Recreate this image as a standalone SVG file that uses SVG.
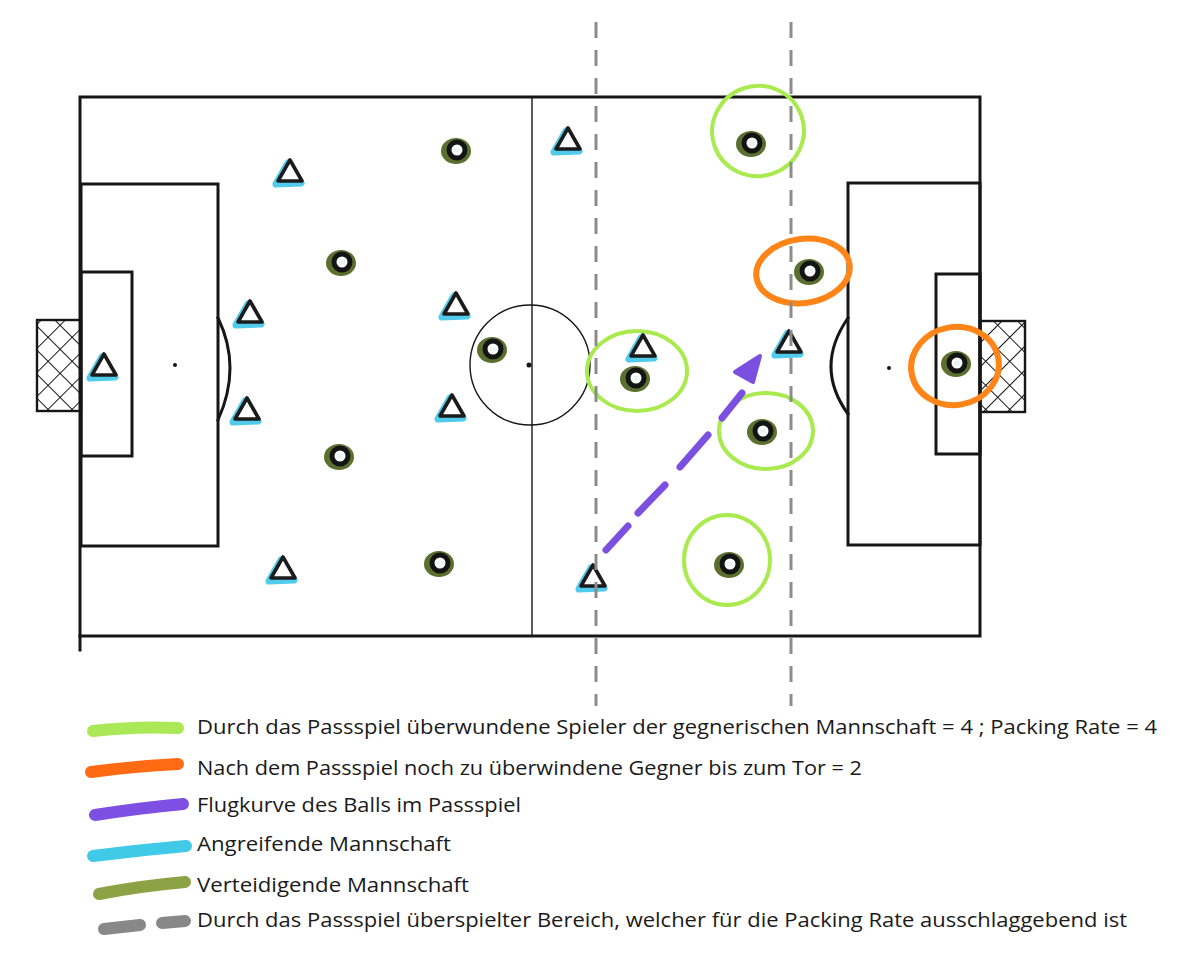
<svg xmlns="http://www.w3.org/2000/svg" xmlns:xlink="http://www.w3.org/1999/xlink" width="1200" height="977" viewBox="0 0 1200 977">
<defs>
<style>
.line{fill:none;stroke:#161616;stroke-width:3;stroke-linecap:square}
.thin{fill:none;stroke:#161616;stroke-width:1.4}
.goal{fill:url(#net);stroke:#161616;stroke-width:2.4}
.zone{fill:none;stroke:#8c8c8c;stroke-width:3;stroke-dasharray:16 12}
.lime{fill:none;stroke:#a9ea4f;stroke-width:4}
.orange{fill:none;stroke:#ff8518;stroke-width:6}
.legtxt{font-family:"Open Sans","Liberation Sans",sans-serif;font-size:19.5px;fill:#1a1a1a}
.sw{fill:none;stroke-width:12;stroke-linecap:round}
</style>
<pattern id="net" patternUnits="userSpaceOnUse" width="17" height="17" patternTransform="rotate(45)">
<line x1="0" y1="0" x2="0" y2="17" stroke="#161616" stroke-width="2"/>
<line x1="0" y1="0" x2="17" y2="0" stroke="#161616" stroke-width="2"/>
</pattern>
<g id="tri">
<path d="M-2,-9 L11,11 L-14,12 Z" fill="#3ec6ea" stroke="#3ec6ea" stroke-width="7" stroke-linejoin="round" opacity="0.9"/>
<path d="M0,-12 L12,9 L-12,9 Z" fill="#ffffff" stroke="#1b1b1b" stroke-width="3.6" stroke-linejoin="round"/>
</g>
<g id="def">
<ellipse cx="-1" cy="1" rx="15" ry="13" fill="#5b6f2f"/>
<circle cx="0" cy="0" r="8" fill="#ffffff" stroke="#141414" stroke-width="5"/>
<ellipse cx="0" cy="0" rx="3.5" ry="2.6" fill="#e9f6f4"/>
</g>
</defs>
<rect width="1200" height="977" fill="#ffffff"/>

<g id="pitch">
<rect x="80" y="97" width="900" height="539" class="line"/>
<line x1="80" y1="636" x2="80" y2="650" class="line"/>
<line x1="532" y1="97" x2="532" y2="636" class="thin" stroke-width="2"/>
<circle cx="530" cy="365" r="60" class="thin"/>
<circle cx="529" cy="365" r="2.5" fill="#161616"/>
<rect x="81" y="184" width="137" height="362" class="line"/>
<rect x="81" y="272" width="51" height="184" class="line" stroke-width="2.4"/>
<path d="M218,318 Q242,367 218,420" class="line" stroke-width="2"/>
<circle cx="175" cy="365" r="2" fill="#161616"/>
<rect x="37" y="320" width="44" height="91" class="goal"/>
<rect x="848" y="183" width="132" height="362" class="line"/>
<rect x="936" y="274" width="44" height="180" class="line" stroke-width="2.4"/>
<path d="M848,318 Q814,367 848,414" class="line" stroke-width="2"/>
<circle cx="889" cy="368" r="2" fill="#161616"/>
<rect x="980" y="321" width="45" height="91" class="goal"/>
</g>

<g id="highlights">
<ellipse cx="758" cy="131" rx="46" ry="45" class="lime" transform="rotate(-20 758 131)"/>
<ellipse cx="637" cy="371" rx="50" ry="40" class="lime"/>
<ellipse cx="766" cy="431" rx="47" ry="38" class="lime"/>
<ellipse cx="727" cy="560" rx="43" ry="45" class="lime"/>
<ellipse cx="803" cy="271" rx="47" ry="32" class="orange" transform="rotate(-8 803 271)"/>
<ellipse cx="955" cy="366" rx="44" ry="39" class="orange" transform="rotate(-10 955 366)"/>
</g>

<g id="attackers">
<g id="a1"><use xlink:href="#tri" x="290" y="172"/></g>
<g id="a2"><use xlink:href="#tri" x="250" y="313"/></g>
<g id="a3"><use xlink:href="#tri" x="247" y="410"/></g>
<g id="a4"><use xlink:href="#tri" x="104" y="366"/></g>
<g id="a5"><use xlink:href="#tri" x="456" y="305"/></g>
<g id="a6"><use xlink:href="#tri" x="452" y="407"/></g>
<g id="a7"><use xlink:href="#tri" x="283" y="569"/></g>
<g id="a8"><use xlink:href="#tri" x="568" y="140"/></g>
<g id="a9"><use xlink:href="#tri" x="643" y="347"/></g>
<g id="a10"><use xlink:href="#tri" x="789" y="343"/></g>
<g id="a11"><use xlink:href="#tri" x="593" y="577"/></g>
</g>

<g id="defenders">
<g id="d1"><use xlink:href="#def" x="457" y="150"/></g>
<g id="d2"><use xlink:href="#def" x="342" y="262"/></g>
<g id="d3"><use xlink:href="#def" x="493" y="349"/></g>
<g id="d4"><use xlink:href="#def" x="340" y="456"/></g>
<g id="d5"><use xlink:href="#def" x="440" y="563"/></g>
<g id="d6"><use xlink:href="#def" x="752" y="143"/></g>
<g id="d7"><use xlink:href="#def" x="810" y="271"/></g>
<g id="d8"><use xlink:href="#def" x="636" y="378"/></g>
<g id="d9"><use xlink:href="#def" x="763" y="431"/></g>
<g id="d10"><use xlink:href="#def" x="730" y="564"/></g>
<g id="d11"><use xlink:href="#def" x="957" y="363"/></g>
</g>

<g id="connectors">
<line x1="596" y1="22" x2="596" y2="706" class="zone"/>
<line x1="791" y1="22" x2="791" y2="706" class="zone"/>
<g stroke="#7b4fe0" stroke-width="7" stroke-linecap="round" fill="none">
<line x1="606" y1="550" x2="628" y2="526"/>
<line x1="638" y1="513" x2="665" y2="485"/>
<line x1="680" y1="467" x2="708" y2="435"/>
<line x1="722" y1="418" x2="742" y2="393"/>
</g>
<path d="M735,372 L760,356 L753,382 Z" fill="#7b4fe0" stroke="#7b4fe0" stroke-width="4" stroke-linejoin="round"/>
</g>

<g id="legend">
<path d="M93,731 Q135,726 178,728" class="sw" stroke="#abe858"/>
<text x="197" y="734" class="legtxt" textLength="960" lengthAdjust="spacingAndGlyphs">Durch das Passspiel überwundene Spieler der gegnerischen Mannschaft = 4 ; Packing Rate = 4</text>
<path d="M91,772 Q135,766 178,764" class="sw" stroke="#ff6a12" stroke-width="13"/>
<text x="197" y="775" class="legtxt" textLength="665" lengthAdjust="spacingAndGlyphs">Nach dem Passspiel noch zu überwindene Gegner bis zum Tor = 2</text>
<path d="M95,815 Q140,808 183,804" class="sw" stroke="#7d4fe2"/>
<text x="197" y="812" class="legtxt" textLength="324" lengthAdjust="spacingAndGlyphs">Flugkurve des Balls im Passspiel</text>
<path d="M93,856 Q140,850 186,846" class="sw" stroke="#41c9e8"/>
<text x="197" y="851" class="legtxt" textLength="254" lengthAdjust="spacingAndGlyphs">Angreifende Mannschaft</text>
<path d="M99,894 Q140,886 185,882" class="sw" stroke="#8da244" stroke-width="10"/>
<text x="197" y="892" class="legtxt" textLength="272" lengthAdjust="spacingAndGlyphs">Verteidigende Mannschaft</text>
<path d="M104,929 L140,925 M162,923 L185,921" class="sw" stroke="#888888" stroke-width="9" stroke-linecap="butt"/>
<text x="197" y="927" class="legtxt" textLength="930" lengthAdjust="spacingAndGlyphs">Durch das Passspiel überspielter Bereich, welcher für die Packing Rate ausschlaggebend ist</text>
</g>
</svg>
